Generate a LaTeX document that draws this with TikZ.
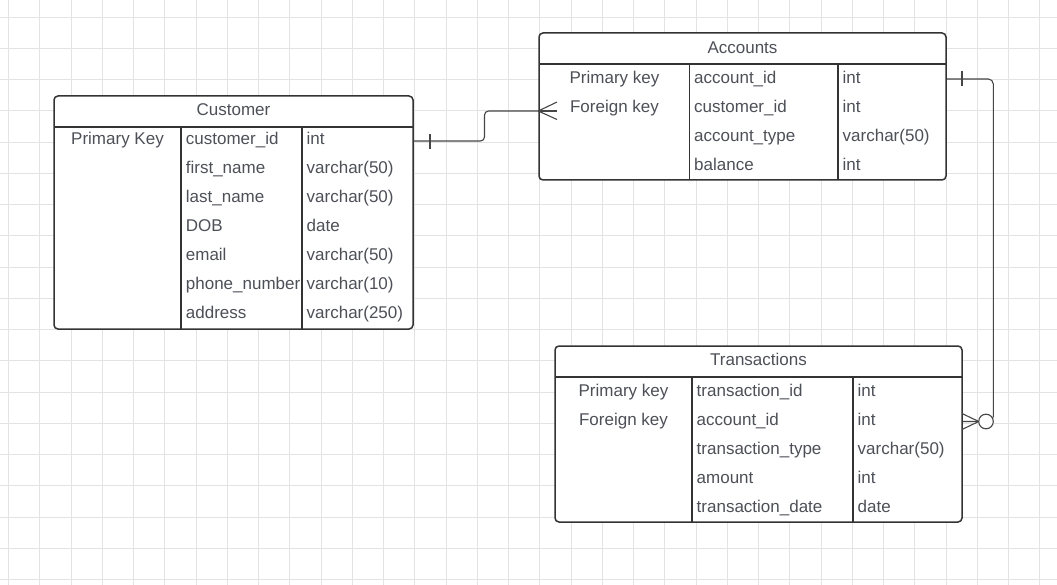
\documentclass[tikz,border=0pt]{standalone}
\usepackage{fontspec}
\setmainfont{Liberation Sans}
\definecolor{txt}{RGB}{78,80,88}
\definecolor{edge}{RGB}{51,51,51}
\definecolor{conncol}{RGB}{70,70,70}
\definecolor{gridc}{RGB}{227,227,227}
\begin{document}
\begin{tikzpicture}[x=1pt,y=-1pt,
  tbox/.style={draw=edge,line width=1.5pt,rounded corners=4pt,fill=white,inner sep=0pt},
  sepline/.style={draw=edge,line width=1.5pt},
  ttl/.style={text=txt,anchor=base,inner sep=0pt,font=\fontsize{17}{20}\selectfont},
  cell/.style={text=txt,anchor=base west,inner sep=0pt,font=\fontsize{17}{20}\selectfont},
  conn/.style={draw=conncol,line width=1.1pt},
  gridline/.style={draw=gridc,line width=0.9pt}]
\useasboundingbox (0,0) rectangle (1057,585);
\fill[white] (0,0) rectangle (1057,585);
% grid
\foreach \k in {0,...,33} \draw[gridline] ({8.5+31.25*\k},0) -- ({8.5+31.25*\k},585);
\foreach \k in {0,...,18} \draw[gridline] (0,{17+31.25*\k}) -- (1057,{17+31.25*\k});

% ---------- Customer ----------
\node[tbox,minimum width=359pt,minimum height=233pt] (cust) at (233.5,212.5) {};
\node[ttl] (custT) at (233.5,116) {Customer};
\node[ttl] (custK1) at (117.5,145) {Primary Key};
\foreach \n/\a/\b [count=\i from 0] in {cid/customer\_id/int, cfn/first\_name/varchar(50), cln/last\_name/varchar(50), cdob/DOB/date, cem/email/varchar(50), cph/phone\_number/varchar(10), cad/address/varchar(250)}{
  \node[cell] (\n a) at (185.7,{145+28.9*\i}) {\a};
  \node[cell] (\n b) at (306.5,{145+28.9*\i}) {\b};
}
\draw[sepline] (54,127) -- (413,127);
\draw[sepline] (181,127) -- (181,329);
\draw[sepline] (302,127) -- (302,329);

% ---------- Accounts ----------
\node[tbox,minimum width=407pt,minimum height=147pt] (acc) at (742.5,106.5) {};
\node[ttl] (accT) at (742.5,53.3) {Accounts};
\node[ttl] (accK1) at (614.5,84) {Primary key};
\node[ttl] (accK2) at (614.5,112.9) {Foreign key};
\foreach \n/\a/\b [count=\i from 0] in {aid/account\_id/int, acid/customer\_id/int, aty/account\_type/varchar(50), abal/balance/int}{
  \node[cell] (\n a) at (694,{84+28.9*\i}) {\a};
  \node[cell] (\n b) at (842.5,{84+28.9*\i}) {\b};
}
\draw[sepline] (539,64) -- (946,64);
\draw[sepline] (689.5,64) -- (689.5,180);
\draw[sepline] (838,64) -- (838,180);

% ---------- Transactions ----------
\node[tbox,minimum width=407pt,minimum height=176pt] (trn) at (758.5,434) {};
\node[ttl] (trnT) at (758.5,365.7) {Transactions};
\node[ttl] (trnK1) at (623.5,396.7) {Primary key};
\node[ttl] (trnK2) at (623.5,425.6) {Foreign key};
\foreach \n/\a/\b [count=\i from 0] in {tid/transaction\_id/int, taid/account\_id/int, tty/transaction\_type/varchar(50), tam/amount/int, tdt/transaction\_date/date}{
  \node[cell] (\n a) at (696.5,{396.7+28.9*\i}) {\a};
  \node[cell] (\n b) at (857.5,{396.7+28.9*\i}) {\b};
}
\draw[sepline] (555,377) -- (962,377);
\draw[sepline] (692,377) -- (692,522);
\draw[sepline] (853,377) -- (853,522);

% ---------- connectors ----------
\coordinate (custOut) at (cust.east |- 0,141);
\coordinate (accIn) at (acc.west |- 0,111);
\coordinate (accOut) at (acc.east |- 0,79);
\coordinate (trnIn) at (trn.east |- 0,421.5);
\coordinate (trnCircle) at (986,421.5);

% Customer -> Accounts
\draw[conn,rounded corners=4pt] (custOut) -- (484.5,141) -- (484.5,111) -- (accIn);
\draw[conn] (430,134) -- (430,149);
\draw[conn] (accIn) -- (557,111);
\draw[conn] (accIn) -- (557,102);
\draw[conn] (accIn) -- (557,119.5);

% Accounts -> Transactions
\draw[conn,rounded corners=5pt] (accOut) -- (993.3,79) -- (993.3,421.5) -- (trnIn);
\draw[conn] (962,71) -- (962,86.5);
\draw[conn,fill=white] (trnCircle) circle (7.3);
\draw[conn] (978.7,421.5) -- (trnIn);
\draw[conn] (978.7,421.5) -- (962,413.5);
\draw[conn] (978.7,421.5) -- (962,429.5);
\end{tikzpicture}
\end{document}
